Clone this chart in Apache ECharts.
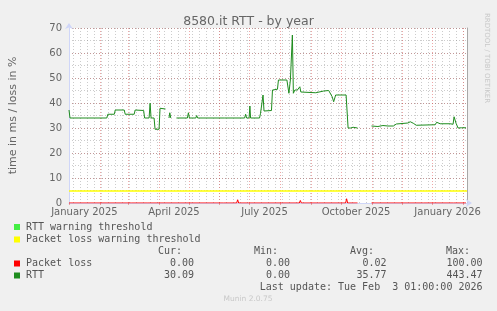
<!DOCTYPE html>
<html><head><meta charset="utf-8">
<script src="https://cdn.jsdelivr.net/npm/echarts@6/dist/echarts.min.js"></script>
<style>html,body{margin:0;padding:0;background:#f0f0f0}#c{width:497px;height:311px}</style>
</head><body><div id="c"></div>
<script>
const chartTitle = '8580.it RTT - by year';
const yAxisName = 'time in ms / loss in %';
const xTickDates = ['2025-01-16', '2025-04-16', '2025-07-16', '2025-10-16', '2026-01-16'];
const xTickLabels = ['January 2025', 'April 2025', 'July 2025', 'October 2025', 'January 2026'];
const yTicks = [0, 10, 20, 30, 40, 50, 60, 70];

// days counted from 2025-01-01 00:00
const rttDays = [-0.5, 0.5, 9.5, 10.5, 11.5, 25.5, 26.5, 27.5, 37.5, 38.5, 45, 46, 55, 56, 65, 66, 74.5, 75.5, 80, 81, 82, 85, 86, 90, 91, 96.5, 98,
  100, 100.8, 101.8, 104, 107.5, 118.5, 119.5, 120.5, 127, 127.8, 128.8, 155.5, 156.3, 157, 176, 177, 178, 180.5, 181.3, 182, 191, 192, 193.5, 194.5, 195.5, 197,
  203, 204, 209, 210, 218.5, 219, 220.5, 222, 223.5, 224, 225, 226.5, 229, 230, 231.5, 232.5, 234, 247.5, 249, 255.5, 257.5, 260.5, 264, 265.5, 267.5, 278,
  280, 281, 282.5, 285, 287, 289.5, 296, 303.5, 310, 315, 320, 325.5, 326.5, 328.5, 329, 340, 342.5, 345.5, 348.5, 349, 367.5, 369, 372.5, 382.5, 384,
  385.5, 386.5, 388.5, 390.5, 392.5, 394, 398.5];
const rttValues = [37.2, 34.0, 34.0, 34.4, 34.0, 34.0, 34.3, 34.0, 34.0, 35.5, 35.5, 37.2, 37.2, 35.5, 35.5, 37.2, 37.0, 34.0, 34.0, 39.9, 34.0, 34.0, 29.5, 29.5, 37.9, 37.6, null,
  34.0, 36.1, 34.0, null, 34.0, 34.0, 36.1, 34.0, 34.0, 35.0, 34.0, 34.0, 34.6, 34.0, 34.0, 35.5, 34.0, 34.0, 38.8, 34.0, 34.0, 35.9, 36.5, 43.2, 36.8, 37.2,
  37.0, 45.2, 45.5, 49.2, 49.2, 48.9, 43.9, 49.2, 49.2, 67.2, 43.9, 45.2, 45.2, 44.4, 46.5, 44.4, 44.1, 44.1, 44.8, 44.8, 44.1, 45.0, 42.5, 40.5, 43.2, 43.2,
  30.0, 30.4, 30.0, 30.3, 30.0, 30.0, null, 30.8, 30.6, 31.0, 30.8, 30.8, 30.0, 31.6, 31.9, 32.0, 32.5, 31.9, 31.1, 31.3, 31.3, 32.3, 31.7, 31.7, 32.3,
  31.5, 34.5, 31.9, 30.0, 30.5, 30.1, 30.09];

const lossDays = [-0.5, 62, 63, 64, 78, 79, 80, 101, 102, 103, 155, 156, 157, 168, 169, 170, 180, 181, 182, 231, 232, 233, 250, 251, 252,
  277.5, 278.5, 279.5, 289.5, 296, 303.5, 356, 357, 358, 386, 387, 388, 398.5];
const lossValues = [0, 0, 0.4, 0, 0, 0.4, 0, 0, 0.5, 0, 0, 0.4, 0, 0, 1.3, 0, 0, 0.4, 0, 0, 1.0, 0, 0, 0.5, 0,
  0, 1.7, 0, 0, null, 0, 0, 0.4, 0, 0, 0.8, 0, 0];
const lossWarning = 5;

const legendRows = [
  { name: 'RTT warning threshold', color: '#44ee44' },
  { name: 'Packet loss warning threshold', color: '#ffff00' },
  { name: 'Packet loss', color: '#ff0000', cur: '0.00', min: '0.00', avg: '0.02', max: '100.00' },
  { name: 'RTT', color: '#1e8c1e', cur: '30.09', min: '0.00', avg: '35.77', max: '443.47' }
];
const lastUpdate = 'Last update: Tue Feb  3 01:00:00 2026';

const DAY = 86400000;
const BASE = Date.UTC(2025, 0, 1);
const toDay = t => (t - BASE) / DAY;
const xMin = -0.5, xMax = 399.5;

// grid helpers (in days): month starts and Sundays
const monthStarts = [];
for (let m = 0; ; m++) { const d = toDay(Date.UTC(2025, m, 1)); if (d > xMax) break; if (d >= xMin) monthStarts.push(d); }
const sundays = [];
for (let d = 4; d <= xMax; d += 7) sundays.push(d);
const labelDays = xTickDates.map(s => toDay(Date.parse(s + 'T00:00:00Z')));

const rttData = rttDays.map((d, i) => [d, rttValues[i]]);
const lossData = lossDays.map((d, i) => [d, lossValues[i]]);

const FONT = 'DejaVu Sans';
const MONO = 'DejaVu Sans Mono';
const GRID = 'rgba(128,128,128,0.4)';
const MGRID = 'rgba(224,80,80,0.5)';

const graphic = [];
const rowY = [227, 239.5, 263.5, 275.5];
legendRows.forEach((r, i) => {
  graphic.push({ type: 'rect', shape: { x: 14, y: rowY[i] - 3, width: 6, height: 6 }, style: { fill: r.color } });
  graphic.push({ type: 'text', x: 26, y: rowY[i], style: { text: r.name, font: '10px ' + MONO, fill: '#555', verticalAlign: 'middle' } });
  if (r.cur !== undefined) {
    [[r.cur, 194], [r.min, 290], [r.avg, 386.5], [r.max, 482.5]].forEach(([t, x]) => {
      graphic.push({ type: 'text', x: x, y: rowY[i], style: { text: t, font: '10px ' + MONO, fill: '#555', align: 'right', verticalAlign: 'middle' } });
    });
  }
});
[['Cur:', 182], ['Min:', 278], ['Avg:', 374], ['Max:', 470]].forEach(([t, x]) => {
  graphic.push({ type: 'text', x: x, y: 251.5, style: { text: t, font: '10px ' + MONO, fill: '#555', align: 'right', verticalAlign: 'middle' } });
});
graphic.push({ type: 'text', x: 482.5, y: 287.5, style: { text: lastUpdate, font: '10px ' + MONO, fill: '#555', align: 'right', verticalAlign: 'middle' } });
graphic.push({ type: 'text', x: 248, y: 299.5, style: { text: 'Munin 2.0.75', font: '7.5px ' + FONT, fill: '#c8c8c8', align: 'center', verticalAlign: 'middle' } });
graphic.push({ type: 'text', x: 487, y: 58, rotation: -Math.PI / 2, style: { text: 'RRDTOOL / TOBI OETIKER', font: '7px ' + FONT, fill: '#c8c8c8', align: 'center', verticalAlign: 'middle' } });

const chart = echarts.init(document.getElementById('c'), null, { renderer: 'canvas' });
chart.setOption({
  backgroundColor: '#f0f0f0',
  animation: false,
  title: { text: chartTitle, left: 'center', top: 10, textStyle: { fontFamily: FONT, fontSize: 12.5, fontWeight: 'normal', color: '#666' } },
  grid: { left: 67, top: 28, width: 400, height: 175, backgroundColor: '#ffffff', show: true, borderWidth: 0 },
  xAxis: [
    { type: 'value', min: xMin, max: xMax, position: 'bottom',
      axisLine: { show: true, onZero: false, lineStyle: { color: '#CFD6F8' }, symbol: ['none', 'arrow'], symbolSize: [6, 6], symbolOffset: [0, 5] },
      axisTick: { show: false },
      axisLabel: { customValues: labelDays, formatter: v => xTickLabels[labelDays.indexOf(v)] || '', fontFamily: FONT, fontSize: 10, color: '#666', margin: 4, hideOverlap: false },
      splitLine: { show: false } },
    { type: 'value', min: xMin, max: xMax, position: 'bottom',
      axisLine: { show: false, onZero: false }, axisLabel: { show: false },
      axisTick: { show: false, customValues: sundays },
      splitLine: { show: true, lineStyle: { color: GRID, type: [1, 2], width: 1 } } },
    { type: 'value', min: xMin, max: xMax, position: 'bottom',
      axisLine: { show: false, onZero: false }, axisLabel: { show: false },
      axisTick: { show: true, customValues: monthStarts, length: 2, lineStyle: { color: MGRID } },
      splitLine: { show: true, lineStyle: { color: MGRID, type: [1, 2], width: 1 } } }
  ],
  yAxis: [
    { type: 'value', min: 0, max: 70, interval: 10, position: 'left',
      name: yAxisName, nameLocation: 'middle', nameGap: 50, nameTextStyle: { fontFamily: FONT, fontSize: 11, color: '#666' },
      axisLine: { show: true, onZero: false, lineStyle: { color: '#CFD6F8' }, symbol: ['none', 'arrow'], symbolSize: [6, 6], symbolOffset: [0, 5] },
      axisTick: { show: false },
      axisLabel: { fontFamily: FONT, fontSize: 10, color: '#666', margin: 7, formatter: v => yTicks.includes(v) ? String(v) : '' },
      splitLine: { show: true, lineStyle: { color: MGRID, type: [1, 2], width: 1 } } },
    { type: 'value', min: 0, max: 70, interval: 5, position: 'right',
      axisLine: { show: true, onZero: false, lineStyle: { color: '#a8a8a8' } }, axisTick: { show: false }, axisLabel: { show: false },
      splitLine: { show: true, lineStyle: { color: GRID, type: [1, 2], width: 1 } } }
  ],
  graphic: graphic,
  series: [
    { type: 'line', name: 'Packet loss', xAxisIndex: 0, yAxisIndex: 0, data: lossData, showSymbol: false, connectNulls: false,
      lineStyle: { color: '#ff0000', width: 1 }, z: 3,
      markLine: { silent: true, symbol: ['none', 'none'], label: { show: false },
        lineStyle: { color: '#ffff00', width: 1.5, type: 'solid' }, data: [{ yAxis: lossWarning }] } },
    { type: 'line', name: 'RTT', xAxisIndex: 0, yAxisIndex: 0, data: rttData, showSymbol: false, connectNulls: false,
      lineStyle: { color: '#1e8c1e', width: 1 }, z: 4 }
  ]
});
</script></body></html>
